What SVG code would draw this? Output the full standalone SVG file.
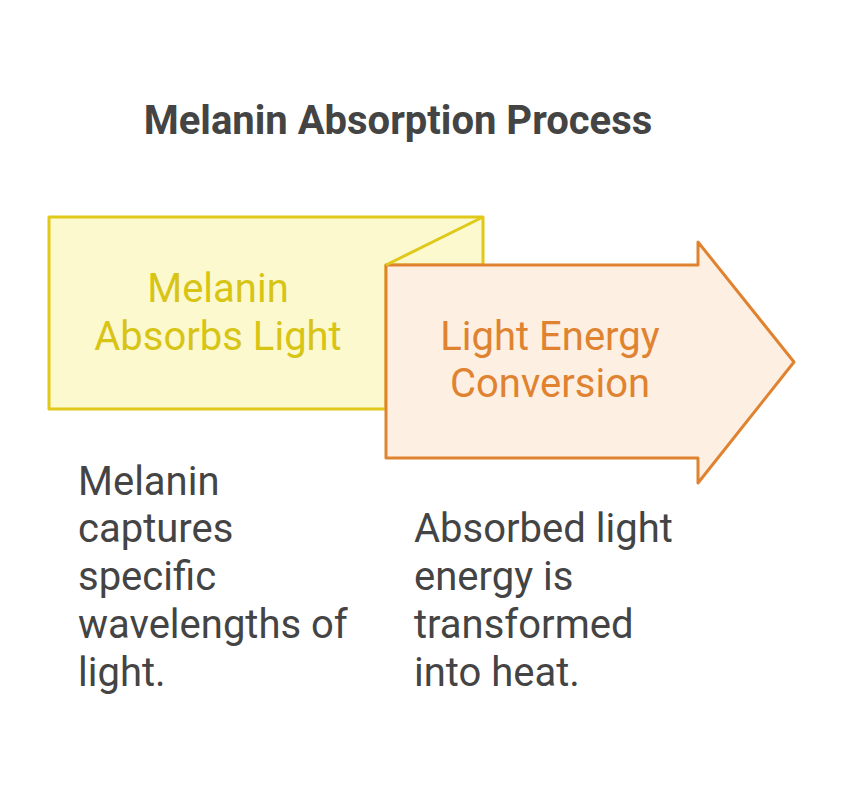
<svg xmlns="http://www.w3.org/2000/svg" width="845" height="796" viewBox="0 0 845 796">
<style>
text{font-family:Roboto,"Liberation Sans",sans-serif;}
.t{font-size:40px;fill:#444;}
.h{font-size:40px;text-anchor:middle;}
</style>
<rect width="845" height="796" fill="#fff"/>
<text x="398" y="134" text-anchor="middle" style="font-size:40px;font-weight:bold;fill:#444">Melanin Absorption Process</text>
<g id="connectors"/>
<g id="node1">
<polygon points="49,217 483,217 483,265 386,265 386,409 49,409" fill="#fdf9cf" stroke="#e0c91a" stroke-width="3" stroke-linejoin="round"/>
<text class="h" x="218" y="302" fill="#d8c414">Melanin</text>
<text class="h" x="218" y="350" fill="#d8c414">Absorbs Light</text>
</g>
<g id="node2">
<polygon points="386,265 698,265 698,242 794,362 698,483 698,458 386,458" fill="#feefe3" stroke="#e08330" stroke-width="3" stroke-linejoin="round"/>
<line x1="483" y1="217" x2="386" y2="265" stroke="#e0c91a" stroke-width="3"/>
<text class="h" x="550" y="350" fill="#e08330">Light Energy</text>
<text class="h" x="550" y="397" fill="#e08330">Conversion</text>
</g>
<g id="desc1">
<text class="t" x="78" y="495">Melanin</text>
<text class="t" x="78" y="542">captures</text>
<text class="t" x="78" y="590">specific</text>
<text class="t" x="78" y="638">wavelengths of</text>
<text class="t" x="78" y="686">light.</text>
</g>
<g id="desc2">
<text class="t" x="414" y="542">Absorbed light</text>
<text class="t" x="414" y="590">energy is</text>
<text class="t" x="414" y="638">transformed</text>
<text class="t" x="414" y="686">into heat.</text>
</g>
</svg>
